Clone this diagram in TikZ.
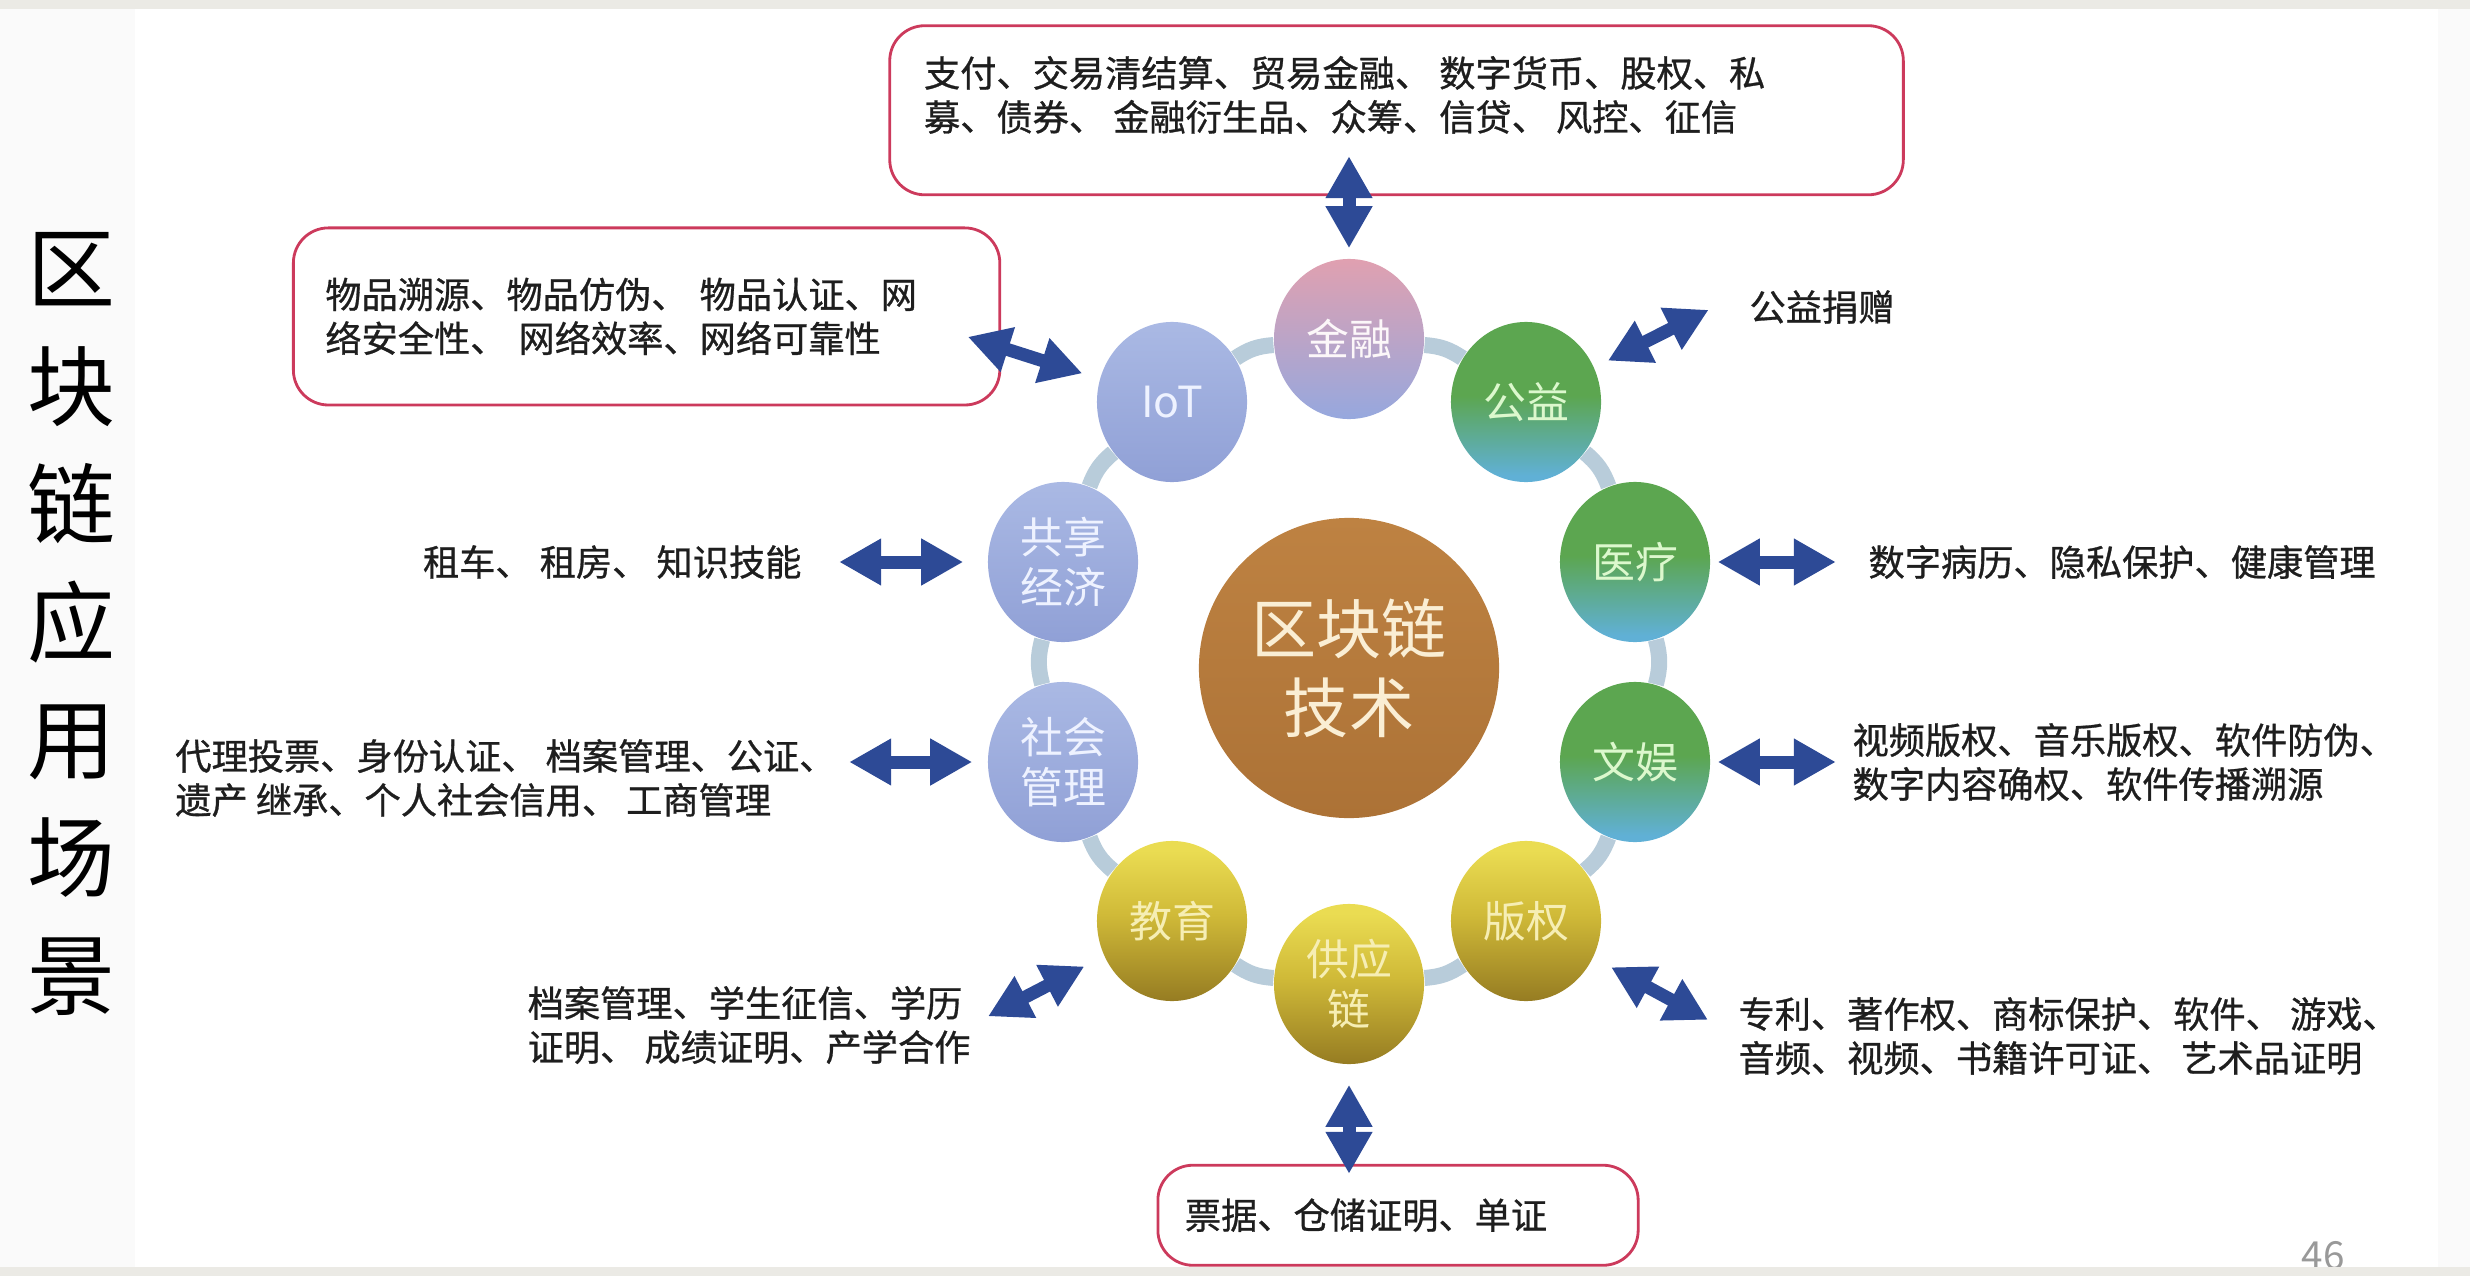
\documentclass[tikz,border=0pt]{standalone}
\usepackage{fontspec}
\setmainfont{Noto Sans CJK SC}
\newfontfamily\descfont{Noto Sans CJK SC}[FakeBold=0.8]
\usepackage{xcolor}
\usepackage{tikz}
\usetikzlibrary{shapes.geometric,arrows.meta,positioning,calc}
\definecolor{arrowblue}{RGB}{45,74,150}
\definecolor{ringgray}{RGB}{184,204,218}
\definecolor{boxred}{RGB}{204,58,92}
\definecolor{textdark}{RGB}{30,30,30}
\definecolor{pagegray}{RGB}{235,234,229}
\definecolor{sidegray}{RGB}{250,250,250}
\definecolor{coretop}{RGB}{190,130,66}
\definecolor{corebot}{RGB}{172,114,54}
\definecolor{corefont}{RGB}{250,238,212}
\definecolor{finpink}{RGB}{224,160,176}
\definecolor{finlav}{RGB}{150,168,222}
\definecolor{iottop}{RGB}{170,185,228}
\definecolor{iotbot}{RGB}{144,160,214}
\definecolor{bluetext}{RGB}{238,242,255}
\definecolor{ggreen}{RGB}{92,166,80}
\definecolor{gteal}{RGB}{96,176,214}
\definecolor{greentext}{RGB}{220,248,205}
\definecolor{gold1}{RGB}{234,220,82}
\definecolor{gold2}{RGB}{208,186,56}
\definecolor{gold3}{RGB}{150,124,34}
\definecolor{goldtext}{RGB}{246,238,180}
\pgfdeclareverticalshading{greenball}{100bp}{color(0bp)=(gteal); color(27bp)=(gteal); color(52bp)=(ggreen); color(100bp)=(ggreen)}
\pgfdeclareverticalshading{goldball}{100bp}{color(0bp)=(gold3); color(25bp)=(gold3); color(52bp)=(gold2); color(72bp)=(gold1); color(100bp)=(gold1)}
\pgfdeclarelayer{ring}
\pgfsetlayers{ring,main}

\begin{document}
\begin{tikzpicture}[
  x=0.01cm, y=-0.01cm,
  sat/.style={ellipse,minimum width=1.5cm,minimum height=1.6cm,inner sep=0pt,
    align=center,font=\fontsize{12.2pt}{14.3pt}\selectfont},
  pinksat/.style={sat,top color=finpink,bottom color=finlav,text=white!92!finpink},
  bluesat/.style={sat,top color=iottop,bottom color=iotbot,text=bluetext},
  greensat/.style={sat,shading=greenball,text=greentext},
  goldsat/.style={sat,shading=goldball,text=goldtext},
  core/.style={circle,minimum size=3cm,inner sep=0pt,top color=coretop,bottom color=corebot,
    text=corefont,align=center,font=\fontsize{18.5pt}{22.5pt}\selectfont},
  desc/.style={inner sep=0pt,align=left,text=textdark,font=\descfont\fontsize{10.3pt}{12.5pt}\selectfont},
  redbox/.style={desc,draw=boxred,line width=0.8pt,rounded corners=0.35cm},
  biarrow/.style={<->,>={Triangle[length=4.2mm,width=4.4mm]},line width=1.3mm,draw=arrowblue},
  ringline/.style={draw=ringgray,line width=1.6mm},
  title/.style={inner sep=0pt,align=center,font=\fontsize{25pt}{33.5pt}\selectfont},
  pagenum/.style={inner sep=0pt,text=gray!80,font=\fontsize{11pt}{13pt}\selectfont}
]
  \useasboundingbox (0,0) rectangle (2470,1276);
  \fill[pagegray] (0,0) rectangle (2470,9);
  \fill[sidegray] (0,9) rectangle (135,1267);
  \fill[sidegray] (2438,9) rectangle (2470,1267);

  \node[title] (heading) at (71,624) {区\\块\\链\\应\\用\\场\\景};

  % core and the ring of fields
  \node[core] (core) at (1349,668) {区块链\\技术};
  \node[pinksat] (fin) at (1349,339) {金融};
  \node[greensat] (gy) at (1526,402) {公益};
  \node[greensat] (med) at (1635,562) {医疗};
  \node[greensat] (ent) at (1635,762) {文娱};
  \node[goldsat] (cpr) at (1526,921) {版权};
  \node[goldsat] (supply) at (1349,984) {供应\\链};
  \node[goldsat] (edu) at (1172,921) {教育};
  \node[bluesat] (soc) at (1063,762) {社会\\管理};
  \node[bluesat] (share) at (1063,562) {共享\\经济};
  \node[bluesat] (iot) at (1172,402) {IoT};

  % application texts
  \node[redbox, minimum width=10.13cm, minimum height=1.69cm, above=0.62cm of fin, xshift=0.475cm] (finbox) {};
  \node[desc, anchor=north west] (fintxt) at ([shift={(35,31)}]finbox.north west)
    {支付、交易清结算、贸易金融、 数字货币、股权、私\\募、债券、 金融衍生品、众筹、信贷、 风控、征信};
  \node[redbox, text width=6.42cm, inner xsep=0.32cm, minimum height=1.77cm, left=0.95cm of iot, yshift=0.855cm] (iotbox)
    {物品溯源、物品仿伪、 物品认证、网\\络安全性、 网络效率、网络可靠性};
  \node[desc, right=1.47cm of gy, yshift=0.95cm] (gytxt) {公益捐赠};
  \node[desc, right=1.57cm of med] (medtxt) {数字病历、隐私保护、健康管理};
  \node[desc, right=1.41cm of ent] (enttxt) {视频版权、音乐版权、软件防伪、\\数字内容确权、软件传播溯源};
  \node[desc, right=1.36cm of cpr, yshift=-1.15cm] (cprtxt)
    {专利、著作权、商标保护、软件、 游戏、\\音频、视频、书籍许可证、 艺术品证明};
  \node[redbox, text width=4.26cm, inner xsep=0.27cm, minimum height=1cm, below=0.99cm of supply, xshift=0.49cm] (supbox)
    {票据、仓储证明、单证};
  \node[desc, left=1.25cm of edu, yshift=-1.04cm] (edutxt) {档案管理、学生征信、学历\\证明、 成绩证明、产学合作};
  \node[desc, left=1.51cm of soc, yshift=-0.16cm] (soctxt)
    {代理投票、身份认证、 档案管理、公证、\\遗产 继承、个人社会信用、 工商管理};
  \node[desc, left=1.85cm of share] (sharetxt) {租车、 租房、 知识技能};

  % double arrows
  \draw[biarrow, shorten <=0.1cm, shorten >=-0.4cm] (fin) -- (fin |- finbox.south);
  \draw[biarrow, shorten <=0.15cm, shorten >=0.45cm] (gy) -- (gytxt.north west);
  \draw[biarrow, shorten <=0.07cm, shorten >=0.32cm] (med) -- (medtxt);
  \draw[biarrow, shorten <=0.07cm, shorten >=0.16cm] (ent) -- (enttxt);
  \draw[biarrow, shorten <=0.2cm, shorten >=0.34cm] (cpr) -- (cprtxt.west);
  \draw[biarrow, shorten <=0.2cm, shorten >=-0.1cm] (supply) -- (supply |- supbox.north);
  \draw[biarrow, shorten <=0.22cm, shorten >=0.19cm] (edu) -- (edutxt.east);
  \draw[biarrow, shorten <=0.15cm, shorten >=0.13cm] (soc) -- (soc -| soctxt.east);
  \draw[biarrow, shorten <=0.24cm, shorten >=0.37cm] (share) -- (sharetxt);
  \draw[biarrow, shorten <=0.18cm, shorten >=-0.35cm] (iot) -- (iotbox.-5);

  \begin{pgfonlayer}{ring}
    \foreach \a/\b in {fin/gy,gy/med,med/ent,ent/cpr,cpr/supply,supply/edu,edu/soc,soc/share,share/iot,iot/fin}
      \draw[ringline] (\a) to[bend left=15] (\b);
  \end{pgfonlayer}

  \node[pagenum] (page) at (2323,1256) {46};
  \fill[pagegray] (0,1267) rectangle (2470,1276);
\end{tikzpicture}
\end{document}
